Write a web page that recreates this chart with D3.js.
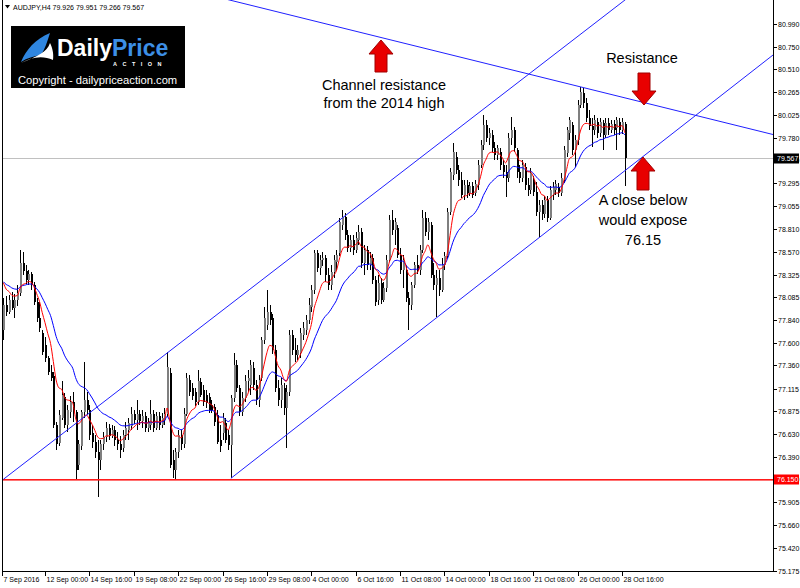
<!DOCTYPE html>
<html><head><meta charset="utf-8">
<script src="https://cdn.jsdelivr.net/npm/d3@7"></script>
<style>body{margin:0;background:#fff}svg{display:block}</style>
</head><body>
<svg id="c" width="800" height="588"></svg>
<script>
// ---- DATA (AUDJPY H4, 7 Sep 2016 12:00 .. 28 Oct 2016 20:00) ----
const opens = [
77.74,78.00,77.93,78.06,77.97,78.06,78.13,78.45,78.36,78.27,
78.33,78.22,78.03,77.86,77.71,77.58,77.44,77.29,77.25,76.73,
76.54,76.80,77.02,76.73,76.87,76.97,76.87,76.30,76.50,76.86,
76.99,76.89,76.64,76.55,76.44,76.36,76.52,76.60,76.70,76.61,
76.67,76.57,76.52,76.48,76.62,76.67,76.72,76.84,76.78,76.84,
76.77,76.82,76.70,76.73,76.84,76.70,76.82,76.73,76.78,76.84,
77.28,76.36,76.25,76.44,76.62,76.52,76.84,77.21,77.12,77.08,
76.97,77.18,77.10,77.05,77.03,76.94,76.92,76.83,76.57,76.64,
76.75,76.62,76.51,77.01,77.37,77.12,76.87,77.01,77.19,77.15,
77.33,77.15,76.99,77.23,77.63,77.79,77.93,77.86,77.52,77.12,
76.99,77.12,76.91,77.08,77.68,77.52,77.47,77.49,77.68,77.74,
77.84,77.98,78.16,78.56,78.40,78.48,78.50,78.32,78.22,78.35,
78.46,78.56,78.85,78.94,78.75,78.61,78.69,78.59,78.69,78.78,
78.45,78.59,78.43,78.50,78.27,78.06,78.24,78.06,78.18,78.48,
78.91,78.80,78.82,78.53,78.37,78.37,78.08,78.00,78.22,78.43,
78.37,78.59,78.93,78.78,78.85,78.32,78.22,78.29,78.16,78.43,
78.52,78.99,79.38,79.58,79.44,79.33,79.17,79.28,79.19,79.27,
79.19,79.28,79.49,79.70,79.92,79.78,79.81,79.67,79.60,79.63,
79.49,79.42,79.35,79.78,79.86,79.65,79.42,79.35,79.47,79.28,
79.23,79.33,79.20,78.99,79.07,78.97,79.12,78.93,79.17,79.23,
79.26,79.19,79.33,79.62,79.83,79.92,79.65,79.76,80.13,80.26,
80.15,79.99,79.91,79.86,79.95,79.83,79.94,79.81,79.94,79.86,
79.93,79.88,79.95,79.86,79.926];
const highs = [
78.08,78.10,78.11,78.14,78.12,78.22,78.59,78.57,78.43,78.37,
78.35,78.25,78.08,78.03,77.74,77.66,77.46,77.37,77.29,76.76,
76.89,77.19,77.07,76.94,77.04,77.08,76.89,76.57,76.89,77.40,
77.08,76.94,76.73,76.62,76.57,76.57,76.65,76.76,76.74,76.73,
76.72,76.65,76.61,76.67,76.76,76.80,76.92,76.89,76.99,76.89,
76.89,76.86,76.80,76.99,76.89,76.86,76.86,76.85,76.91,77.50,
77.33,76.46,76.48,76.67,76.67,76.91,77.28,77.26,77.17,77.12,
77.31,77.23,77.15,77.10,77.07,76.99,76.95,76.89,76.73,76.85,
76.80,76.67,77.05,77.49,77.42,77.15,77.08,77.26,77.31,77.42,
77.40,77.21,77.26,77.66,77.98,78.16,78.00,77.91,77.58,77.21,
77.23,77.17,77.15,77.74,77.74,77.65,77.58,77.76,77.82,77.90,
78.08,78.22,78.59,78.59,78.53,78.57,78.53,78.40,78.43,78.53,
78.59,78.93,79.01,78.98,78.80,78.75,78.75,78.78,78.85,78.82,
78.64,78.63,78.57,78.55,78.31,78.32,78.29,78.25,78.53,78.96,
79.01,78.93,78.85,78.61,78.53,78.42,78.14,78.25,78.46,78.53,
78.64,79.01,78.99,78.93,78.88,78.45,78.37,78.37,78.50,78.57,
79.03,79.46,79.72,79.63,79.49,79.42,79.33,79.33,79.31,79.31,
79.33,79.54,79.76,80.02,79.97,79.88,79.86,79.74,79.70,79.67,
79.54,79.49,79.83,80.00,79.90,79.67,79.49,79.54,79.51,79.35,
79.46,79.37,79.31,79.12,79.12,79.16,79.16,79.27,79.31,79.33,
79.30,79.41,79.69,79.90,80.00,79.95,79.81,80.18,80.32,80.31,
80.20,80.08,79.99,80.02,79.99,79.99,79.97,79.99,79.99,79.97,
79.97,80.00,79.99,79.99,79.951];
const lows = [
77.63,77.89,77.91,77.95,77.86,77.99,78.10,78.32,78.23,78.22,
78.16,78.00,77.82,77.72,77.47,77.40,77.26,77.19,76.70,76.46,
76.50,76.78,76.70,76.65,76.80,76.76,76.14,76.25,76.46,76.80,
76.83,76.57,76.48,76.38,75.96,76.25,76.46,76.55,76.57,76.59,
76.50,76.46,76.38,76.44,76.57,76.57,76.67,76.74,76.67,76.73,
76.70,76.65,76.65,76.67,76.65,76.67,76.67,76.70,76.73,76.81,
76.27,76.16,76.14,76.38,76.46,76.48,76.82,77.04,76.99,76.93,
76.94,77.02,76.93,76.91,76.85,76.85,76.72,76.52,76.44,76.57,
76.54,76.46,76.16,76.97,77.08,76.82,76.82,76.97,77.08,77.05,
77.10,76.94,76.92,77.19,77.59,77.74,77.79,77.48,77.08,76.93,
76.91,76.83,76.48,77.04,77.47,77.40,77.42,77.44,77.63,77.68,
77.80,77.93,78.12,78.35,78.32,78.42,78.25,78.16,78.16,78.29,
78.37,78.52,78.80,78.69,78.57,78.57,78.53,78.56,78.64,78.40,
78.32,78.37,78.37,78.23,77.99,78.00,78.01,78.03,78.14,78.46,
78.75,78.64,78.50,78.33,78.18,78.03,77.74,77.95,78.18,78.33,
78.32,78.56,78.74,78.69,78.29,78.16,77.88,78.10,78.14,78.37,
78.50,78.96,79.33,79.40,79.27,79.14,79.12,79.14,79.16,79.14,
79.16,79.23,79.46,79.65,79.74,79.70,79.63,79.54,79.54,79.44,
79.35,79.15,79.31,79.70,79.63,79.35,79.30,79.31,79.23,79.16,
79.18,79.16,78.95,78.73,78.91,78.93,78.89,78.91,79.12,79.17,
79.15,79.16,79.30,79.58,79.76,79.60,79.47,79.70,80.10,80.10,
79.95,79.86,79.68,79.81,79.78,79.79,79.65,79.78,79.81,79.83,
79.81,79.65,79.81,79.82,79.266];
const closes = [
78.00,77.93,78.06,77.97,78.06,78.13,78.45,78.36,78.27,78.33,
78.22,78.03,77.86,77.76,77.50,77.44,77.29,77.23,76.73,76.52,
76.83,77.05,76.73,76.89,76.97,76.87,76.25,76.52,76.86,76.99,
76.89,76.62,76.55,76.44,76.36,76.52,76.60,76.70,76.61,76.67,
76.57,76.52,76.46,76.62,76.70,76.75,76.84,76.78,76.84,76.77,
76.82,76.70,76.76,76.84,76.70,76.82,76.73,76.80,76.84,77.34,
76.30,76.25,76.44,76.62,76.52,76.84,77.23,77.08,77.04,76.97,
77.19,77.05,76.97,76.96,76.89,76.89,76.76,76.55,76.50,76.80,
76.57,76.51,77.01,77.37,77.12,76.87,77.01,77.19,77.23,77.37,
77.15,76.99,77.21,77.63,77.86,77.93,77.84,77.52,77.12,76.99,
77.15,76.91,77.08,77.68,77.52,77.47,77.52,77.70,77.76,77.84,
78.00,78.16,78.56,78.40,78.48,78.50,78.32,78.22,78.35,78.48,
78.53,78.88,78.94,78.75,78.61,78.69,78.59,78.72,78.78,78.45,
78.59,78.43,78.50,78.27,78.03,78.24,78.06,78.18,78.48,78.91,
78.80,78.88,78.53,78.37,78.48,78.08,78.00,78.22,78.43,78.37,
78.59,78.93,78.78,78.88,78.32,78.22,78.29,78.16,78.43,78.52,
78.99,79.42,79.63,79.44,79.33,79.17,79.28,79.19,79.27,79.17,
79.29,79.49,79.70,79.92,79.78,79.83,79.67,79.60,79.67,79.49,
79.42,79.35,79.78,79.86,79.67,79.42,79.35,79.49,79.28,79.23,
79.41,79.20,78.99,79.07,78.97,79.12,78.93,79.23,79.26,79.29,
79.19,79.35,79.65,79.86,79.97,79.65,79.76,80.13,80.27,80.15,
79.99,79.91,79.86,79.97,79.83,79.95,79.81,79.94,79.86,79.93,
79.86,79.97,79.86,79.95,79.567];

const xTickBars   = [0,15,31,47,63,79,95,111,127,143,159,175,191,207,223];
const xTickLabels = ["7 Sep 2016","12 Sep 00:00","14 Sep 16:00","19 Sep 08:00","22 Sep 00:00",
  "26 Sep 16:00","29 Sep 08:00","4 Oct 00:00","6 Oct 16:00","11 Oct 08:00","14 Oct 00:00",
  "18 Oct 16:00","21 Oct 08:00","26 Oct 00:00","28 Oct 16:00"];
const yTickValues = [80.990,80.750,80.510,80.265,80.025,79.780,79.540,79.295,79.055,78.810,
  78.570,78.325,78.085,77.840,77.600,77.360,77.115,76.875,76.630,76.390,76.150,75.905,
  75.660,75.420,75.175];

const fastPeriod = 8, slowPeriod = 21;
const fastSeed = 78.24, slowSeed = 78.25;   // indicator values at first visible bar
const bidPrice = 79.567;
const supportLevel = 76.150;
const header = "AUDJPY,H4  79.926 79.951 79.266 79.567";
// trend lines: [bar, price] anchor pairs (rays to the right)
const upperChannel   = [[0, 76.15], [135, 79.22]];
const lowerChannel   = [[82, 76.16], [224, 79.43]];
const resistanceLine = [[0, 81.84], [224, 80.205]];

// ---- CHART ----
const svg = d3.select("#c");
const L = 2, R = 773, T = 0, B = 571;
const x = d3.scaleLinear().domain([0, 224]).range([3.4, 624.8]);
const y = d3.scaleLinear().domain([75.175, 80.990]).range([571, 24]);

svg.append("defs").append("clipPath").attr("id","plot")
  .append("rect").attr("x",L).attr("y",T).attr("width",R-L).attr("height",B-T);
const g = svg.append("g").attr("clip-path","url(#plot)");

// bid line
g.append("rect").attr("x",L).attr("width",R-L).attr("y",Math.round(y(bidPrice))).attr("height",1)
  .attr("fill","#c0c0c0");

// candles
const bars = d3.range(opens.length).map(i => ({i, o:opens[i], h:highs[i], l:lows[i], c:closes[i]}));
const cg = g.append("g").attr("shape-rendering","crispEdges");
cg.selectAll("line.w").data(bars).join("line").attr("class","w")
  .attr("x1", d => Math.round(x(d.i)) + 0.5).attr("x2", d => Math.round(x(d.i)) + 0.5)
  .attr("y1", d => y(d.h)).attr("y2", d => y(d.l))
  .attr("stroke","#000").attr("stroke-width",1);
cg.selectAll("rect.b").data(bars).join("rect").attr("class","b")
  .attr("x", d => Math.round(x(d.i)))
  .attr("width", 2)
  .attr("y", d => y(Math.max(d.o, d.c)))
  .attr("height", d => Math.max(1, Math.abs(y(d.o) - y(d.c))))
  .attr("fill", d => d.c >= d.o ? "#7f7f7f" : "#000");

// support line (drawn over candles)
g.append("rect").attr("x",L+1).attr("width",R-L-1).attr("y",Math.round(y(supportLevel))).attr("height",1.6)
  .attr("fill","#ff1a1a");

// moving averages
function ema(vals, n, seed) {
  const k = 2 / (n + 1); const out = [seed];
  for (let i = 1; i < vals.length; i++) out.push(out[i-1] + k * (vals[i] - out[i-1]));
  return out;
}
const fast = ema(closes, fastPeriod, fastSeed), slow = ema(closes, slowPeriod, slowSeed);
const lineGen = d3.line().x((d,i) => x(i)).y(d => y(d)).curve(d3.curveMonotoneX);
g.append("path").attr("d", lineGen(slow)).attr("fill","none").attr("stroke","#0000ff").attr("stroke-width",1);
g.append("path").attr("d", lineGen(fast)).attr("fill","none").attr("stroke","#ff0000").attr("stroke-width",1);

// trend lines (rays)
function ray(pts) {
  const [a, b] = pts;
  const x1 = x(a[0]), y1 = y(a[1]), x2 = x(b[0]), y2 = y(b[1]);
  const s = (y2 - y1) / (x2 - x1);
  return {x1, y1, x2: R, y2: y1 + s * (R - x1)};
}
[upperChannel, lowerChannel, resistanceLine].forEach(p => {
  const r = ray(p);
  g.append("line").attr("x1",r.x1).attr("y1",r.y1).attr("x2",r.x2).attr("y2",r.y2)
    .attr("stroke","#2020ff").attr("stroke-width",1);
});

// frame
svg.append("path").attr("d",`M${L+0.5},${T} V${B+0.5} H${R+0.5} V${T}`)
  .attr("fill","none").attr("stroke","#000").attr("stroke-width",1).attr("shape-rendering","crispEdges");

// right axis
const ya = svg.append("g").attr("font-family","Liberation Sans, Arial, sans-serif").attr("font-size",7).attr("fill","#000");
yTickValues.forEach(v => {
  const yy = Math.round(y(v)) + 0.5;
  ya.append("line").attr("x1",R).attr("x2",R+4).attr("y1",yy).attr("y2",yy).attr("stroke","#000");
  ya.append("text").attr("x",R+5).attr("y",yy).attr("dy","0.35em").text(v.toFixed(3));
});
function priceTag(v, bg) {
  const yy = Math.round(y(v)) + 0.5;
  ya.append("rect").attr("x",R+1).attr("y",yy-5).attr("width",25).attr("height",10).attr("fill",bg);
  ya.append("text").attr("x",R+4).attr("y",yy).attr("dy","0.35em").attr("fill","#fff").text(v.toFixed(3));
}
priceTag(bidPrice, "#000");
priceTag(supportLevel, "#ff0000");

// bottom axis
const xa = svg.append("g").attr("font-family","Liberation Sans, Arial, sans-serif").attr("font-size",7).attr("fill","#000");
xTickBars.forEach((b, k) => {
  const xx = k === 0 ? L + 0.5 : Math.round(x(b)) + 0.5;
  xa.append("line").attr("x1",xx).attr("x2",xx).attr("y1",B).attr("y2",B+5).attr("stroke","#000");
  xa.append("text").attr("x",xx+1).attr("y",582).text(xTickLabels[k]);
});

// header
svg.append("path").attr("d","M5,5 L10,5 L7.5,8.5 Z").attr("fill","#000");
svg.append("text").attr("x",13).attr("y",9.5).attr("font-family","Liberation Sans, Arial, sans-serif")
  .attr("font-size",7).attr("fill","#000").text(header);

// logo
const lg = svg.append("g");
lg.append("rect").attr("x",11).attr("y",26).attr("width",174).attr("height",62).attr("fill","#000");
lg.append("path").attr("d","M21,62 C26,50 35,39 50,33 C47,42 45,49 41,55 C34,56 27,58 21,62 Z").attr("fill","#2f86e0");
lg.append("path").attr("d","M21,63 C31,57 43,55 53,60 C54,53 52,47 50,43 C47,52 38,56 21,63 Z").attr("fill","#ffffff");
const lt = lg.append("text").attr("x",57).attr("y",56).attr("font-family","Liberation Sans, Arial, sans-serif")
  .attr("font-weight","bold").attr("font-size",23);
lt.append("tspan").attr("fill","#fff").text("Daily");
lt.append("tspan").attr("fill","#3d8fe6").text("Price");
lg.append("text").attr("x",113).attr("y",66).attr("font-family","Liberation Sans, Arial, sans-serif")
  .attr("font-weight","bold").attr("font-size",5.5).attr("letter-spacing",5.5).attr("fill","#fff").text("ACTION");
lg.append("text").attr("x",18).attr("y",84).attr("font-family","Liberation Sans, Arial, sans-serif")
  .attr("font-size",11.2).attr("fill","#fff").text("Copyright - dailypriceaction.com");

// arrows
function arrow(cx, tipY, baseY) {
  const dir = baseY > tipY ? 1 : -1;
  const hw = 12, sw = 6, hl = 14;
  const p = [[cx, tipY],[cx+hw, tipY+dir*hl],[cx+sw, tipY+dir*hl],[cx+sw, baseY],
             [cx-sw, baseY],[cx-sw, tipY+dir*hl],[cx-hw, tipY+dir*hl]];
  svg.append("path").attr("d","M"+p.join("L")+"Z").attr("fill","#e80000").attr("stroke","#a00000").attr("stroke-width",1);
}
arrow(381, 40, 72);
arrow(644, 105, 73);
arrow(643, 157, 190);

// annotations
const at = svg.append("g").attr("font-family","Liberation Sans, Arial, sans-serif").attr("font-size",14.5)
  .attr("fill","#000").attr("text-anchor","middle");
[["Channel resistance",384,90],["from the 2014 high",384,108],["Resistance",642,63],
 ["A close below",643,205],["would expose",643,225],["76.15",643,245]].forEach(t =>
  at.append("text").attr("x",t[1]).attr("y",t[2]).text(t[0]));
</script>
</body></html>
